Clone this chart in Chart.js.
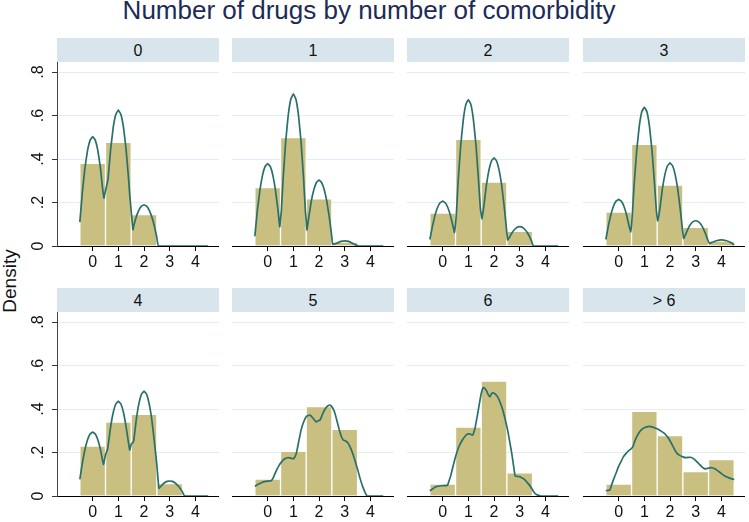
<!DOCTYPE html>
<html><head><meta charset="utf-8">
<script src="https://cdn.jsdelivr.net/npm/chart.js@4.4.1/dist/chart.umd.min.js"></script>
<style>
html,body{margin:0;padding:0;background:#fff;}
#wrap{position:relative;width:749px;height:522px;overflow:hidden;font-family:'Liberation Sans',Arial,sans-serif;}
.title{position:absolute;left:0;top:-5px;width:738px;text-align:center;font-size:26px;color:#1c2b57;line-height:30px;white-space:nowrap;}
.strip{position:absolute;height:24px;background:#d9e5ec;text-align:center;font-size:16px;line-height:25px;color:#111;}
.ylab{position:absolute;left:10px;top:281px;transform:translate(-50%,-50%) rotate(-90deg);font-size:19px;color:#111;white-space:nowrap;}
canvas{position:absolute;}
</style></head>
<body>
<div id="wrap">
  <div class="title">Number of drugs by number of comorbidity</div>
  <div class="ylab">Density</div>
</div>
<script>
// ---- data ----
const panelLabels = ['0', '1', '2', '3', '4', '5', '6', '> 6'];
const binCenters = [0, 1, 2, 3, 4];
const xTickValues = [0, 1, 2, 3, 4];
const yTickValues = [0, 0.2, 0.4, 0.6, 0.8];
const yTickLabels = ['0', '.2', '.4', '.6', '.8'];

const hist0 = [0.380, 0.477, 0.145, 0, 0];
const hist1 = [0.269, 0.499, 0.217, 0.018, 0];
const hist2 = [0.151, 0.491, 0.294, 0.067, 0];
const hist3 = [0.156, 0.467, 0.280, 0.086, 0.023];
const hist4 = [0.229, 0.340, 0.376, 0.057, 0];
const hist5 = [0.078, 0.205, 0.411, 0.307, 0];
const hist6 = [0.055, 0.317, 0.528, 0.107, 0];
const hist7 = [0.055, 0.389, 0.278, 0.112, 0.167];

const kd0 = [[-0.5,0.11],[-0.4,0.25],[-0.3,0.36],[-0.2,0.44],[-0.1,0.487],[0,0.503],[0.1,0.487],[0.2,0.44],[0.3,0.36],[0.38,0.27],[0.44,0.22],[0.48,0.245],[0.53,0.27],[0.6,0.31],[0.7,0.445],[0.8,0.545],[0.9,0.605],[1,0.625],[1.1,0.605],[1.2,0.545],[1.3,0.445],[1.4,0.306],[1.44,0.24],[1.5,0.16],[1.57,0.075],[1.6,0.093],[1.7,0.135],[1.8,0.165],[1.9,0.183],[2,0.189],[2.1,0.183],[2.2,0.165],[2.3,0.135],[2.4,0.093],[2.5,0.038],[2.56,0],[4.5,0]];
const kd1 = [[-0.5,0.045],[-0.4,0.166],[-0.3,0.259],[-0.2,0.326],[-0.1,0.366],[0,0.379],[0.1,0.366],[0.2,0.326],[0.3,0.259],[0.4,0.166],[0.47,0.088],[0.5,0.125],[0.53,0.158],[0.6,0.306],[0.7,0.478],[0.8,0.601],[0.9,0.675],[1,0.70],[1.1,0.675],[1.2,0.601],[1.3,0.478],[1.4,0.306],[1.47,0.158],[1.5,0.12],[1.53,0.074],[1.6,0.132],[1.7,0.207],[1.8,0.26],[1.9,0.292],[2,0.303],[2.1,0.292],[2.2,0.26],[2.3,0.207],[2.4,0.132],[2.47,0.068],[2.5,0.039],[2.53,0.008],[2.7,0.013],[2.85,0.021],[3,0.024],[3.15,0.021],[3.3,0.013],[3.45,0.004],[3.53,0],[4.5,0]];
const kd2 = [[-0.5,0.03],[-0.4,0.09],[-0.3,0.141],[-0.2,0.177],[-0.1,0.199],[0,0.206],[0.1,0.199],[0.2,0.177],[0.3,0.141],[0.4,0.092],[0.46,0.062],[0.5,0.1],[0.54,0.16],[0.6,0.294],[0.7,0.46],[0.8,0.578],[0.9,0.65],[1,0.673],[1.1,0.65],[1.2,0.578],[1.3,0.46],[1.4,0.294],[1.47,0.17],[1.53,0.125],[1.6,0.18],[1.7,0.277],[1.8,0.348],[1.9,0.391],[2,0.405],[2.1,0.391],[2.2,0.348],[2.3,0.277],[2.4,0.177],[2.47,0.095],[2.53,0.028],[2.6,0.039],[2.7,0.061],[2.8,0.076],[2.9,0.086],[3,0.089],[3.1,0.086],[3.2,0.076],[3.3,0.061],[3.4,0.039],[3.47,0.02],[3.53,0],[4.5,0]];
const kd3 = [[-0.5,0.03],[-0.4,0.094],[-0.3,0.146],[-0.2,0.184],[-0.1,0.207],[0,0.214],[0.1,0.207],[0.2,0.184],[0.3,0.146],[0.4,0.094],[0.47,0.064],[0.5,0.095],[0.54,0.16],[0.6,0.279],[0.7,0.436],[0.8,0.549],[0.9,0.617],[1,0.639],[1.1,0.617],[1.2,0.549],[1.3,0.436],[1.4,0.279],[1.47,0.16],[1.52,0.116],[1.6,0.167],[1.7,0.261],[1.8,0.328],[1.9,0.369],[2,0.382],[2.1,0.369],[2.2,0.328],[2.3,0.261],[2.4,0.167],[2.47,0.09],[2.53,0.035],[2.6,0.051],[2.7,0.079],[2.8,0.1],[2.9,0.112],[3,0.116],[3.1,0.112],[3.2,0.1],[3.3,0.079],[3.4,0.051],[3.47,0.028],[3.53,0.012],[3.65,0.017],[3.8,0.024],[4,0.028],[4.2,0.024],[4.35,0.017],[4.5,0.005]];
const kd4 = [[-0.5,0.076],[-0.4,0.154],[-0.3,0.215],[-0.2,0.259],[-0.1,0.285],[0,0.294],[0.1,0.285],[0.2,0.259],[0.3,0.215],[0.42,0.145],[0.5,0.19],[0.58,0.215],[0.7,0.319],[0.8,0.384],[0.9,0.423],[1,0.436],[1.1,0.423],[1.2,0.384],[1.3,0.319],[1.44,0.212],[1.5,0.238],[1.56,0.245],[1.6,0.255],[1.7,0.353],[1.8,0.425],[1.9,0.468],[2,0.482],[2.1,0.468],[2.2,0.425],[2.3,0.353],[2.4,0.253],[2.5,0.142],[2.58,0.035],[2.7,0.05],[2.8,0.061],[2.9,0.067],[3,0.069],[3.1,0.067],[3.2,0.061],[3.3,0.05],[3.42,0.033],[3.5,0.018],[3.58,0],[4.5,0]];
const kd5 = [[-0.5,0.045],[-0.35,0.055],[-0.19,0.064],[0,0.068],[0.13,0.07],[0.2,0.08],[0.26,0.096],[0.35,0.12],[0.45,0.142],[0.55,0.158],[0.65,0.17],[0.78,0.176],[0.9,0.174],[1.0,0.171],[1.08,0.185],[1.13,0.203],[1.2,0.245],[1.3,0.303],[1.4,0.34],[1.52,0.367],[1.65,0.372],[1.75,0.36],[1.88,0.341],[1.95,0.345],[2.04,0.349],[2.15,0.38],[2.25,0.402],[2.35,0.415],[2.43,0.418],[2.52,0.407],[2.6,0.387],[2.7,0.345],[2.79,0.303],[2.88,0.27],[2.95,0.257],[3.05,0.252],[3.12,0.245],[3.2,0.228],[3.31,0.196],[3.41,0.16],[3.51,0.119],[3.6,0.08],[3.7,0.043],[3.8,0.015],[3.87,0],[4.5,0]];
const kd6 = [[-0.5,0.024],[-0.35,0.036],[-0.26,0.043],[-0.06,0.047],[0.1,0.048],[0.19,0.05],[0.25,0.07],[0.32,0.096],[0.42,0.145],[0.52,0.188],[0.65,0.232],[0.78,0.26],[0.88,0.276],[0.97,0.285],[1.07,0.285],[1.17,0.28],[1.22,0.295],[1.27,0.318],[1.35,0.37],[1.43,0.425],[1.5,0.47],[1.58,0.499],[1.64,0.495],[1.71,0.483],[1.78,0.465],[1.84,0.456],[1.9,0.47],[1.97,0.474],[2.05,0.468],[2.14,0.456],[2.24,0.43],[2.34,0.395],[2.44,0.35],[2.53,0.303],[2.61,0.25],[2.69,0.196],[2.76,0.14],[2.82,0.092],[2.9,0.09],[2.99,0.089],[3.08,0.084],[3.18,0.076],[3.28,0.064],[3.38,0.05],[3.48,0.032],[3.57,0.015],[3.7,0.004],[3.83,0],[4.5,0]];
const kd7 = [[-0.5,0.024],[-0.34,0.028],[-0.28,0.05],[-0.21,0.073],[-0.1,0.106],[-0.01,0.135],[0.1,0.16],[0.18,0.18],[0.28,0.195],[0.38,0.208],[0.47,0.216],[0.55,0.226],[0.62,0.25],[0.7,0.272],[0.8,0.292],[0.9,0.306],[1.0,0.314],[1.09,0.318],[1.2,0.32],[1.29,0.318],[1.42,0.313],[1.55,0.306],[1.68,0.296],[1.81,0.285],[1.9,0.272],[2.0,0.254],[2.1,0.232],[2.19,0.211],[2.28,0.195],[2.36,0.188],[2.5,0.18],[2.62,0.176],[2.75,0.178],[2.84,0.177],[2.95,0.168],[3.04,0.158],[3.14,0.146],[3.23,0.135],[3.32,0.127],[3.4,0.125],[3.5,0.128],[3.62,0.13],[3.72,0.126],[3.82,0.119],[3.95,0.108],[4.08,0.096],[4.2,0.088],[4.34,0.081],[4.5,0.076]];

const histograms = [hist0, hist1, hist2, hist3, hist4, hist5, hist6, hist7];
const densities = [kd0, kd1, kd2, kd3, kd4, kd5, kd6, kd7];

// ---- layout ----
const colLefts = [57, 232, 407, 583];
const rowTops = [62, 312];
const plotW = 162, plotH = 184, stripH = 24, xAxisH = 30, yAxisW = 57;
const FONT = "'Liberation Sans', Arial, sans-serif";

const wrap = document.getElementById('wrap');
panelLabels.forEach((lab, i) => {
  const row = i < 4 ? 0 : 1, col = i % 4;
  const left = colLefts[col], top = rowTops[row];
  const strip = document.createElement('div');
  strip.className = 'strip';
  strip.style.left = left + 'px';
  strip.style.top = (top - stripH) + 'px';
  strip.style.width = plotW + 'px';
  strip.textContent = lab;
  wrap.appendChild(strip);

  const aw = col === 0 ? yAxisW : 0;
  const cv = document.createElement('canvas');
  cv.width = plotW + aw; cv.height = plotH + xAxisH;
  cv.style.left = (left - aw) + 'px';
  cv.style.top = top + 'px';
  cv.style.width = (plotW + aw) + 'px';
  cv.style.height = (plotH + xAxisH) + 'px';
  wrap.appendChild(cv);

  const hist = histograms[i];
  new Chart(cv.getContext('2d'), {
    type: 'bar',
    data: {
      datasets: [
        { type: 'line', data: densities[i].map(p => ({x: p[0], y: p[1]})),
          borderColor: '#2a706a', borderWidth: 1.7, pointRadius: 0, tension: 0.08, fill: false, order: 0 },
        { type: 'bar', data: binCenters.map((c, j) => ({x: c, y: hist[j]})).filter(d => d.y > 0),
          backgroundColor: '#c9bf80', borderColor: 'rgba(255,255,255,0.55)', borderWidth: 1,
          borderSkipped: 'bottom', barPercentage: 1, categoryPercentage: 1, order: 1 }
      ]
    },
    options: {
      responsive: false, animation: false, events: [],
      layout: { padding: 0, autoPadding: false },
      plugins: { legend: { display: false }, tooltip: { enabled: false } },
      scales: {
        x: {
          type: 'linear', min: -1.39, max: 4.92, offset: false,
          afterBuildTicks: s => { s.ticks = xTickValues.map(v => ({value: v})); },
          afterFit: s => { s.height = xAxisH; s.paddingLeft = 0; s.paddingRight = 0; },
          grid: { offset: false, drawOnChartArea: false, drawTicks: true, tickLength: 5, tickColor: '#000' },
          border: { display: true, color: '#000', width: 1 },
          ticks: { font: { family: FONT, size: 16 }, color: '#111', padding: 2, maxRotation: 0, autoSkip: false,
                   callback: (v, idx) => String(xTickValues[idx]) }
        },
        y: {
          type: 'linear', min: 0, max: 0.846,
          afterBuildTicks: s => { s.ticks = yTickValues.map(v => ({value: v})); },
          afterFit: s => { s.width = aw; s.paddingTop = 0; s.paddingBottom = 0; },
          grid: { color: c => (c.tick && c.tick.value === 0) ? 'rgba(0,0,0,0)' : '#e4eef1', lineWidth: 1,
                  drawTicks: col === 0, tickLength: 5, tickColor: '#333' },
          border: { display: col === 0, color: '#444', width: 1 },
          ticks: { display: col === 0, minRotation: 90, maxRotation: 90, crossAlign: 'center', padding: 7,
                   font: { family: FONT, size: 16 }, color: '#111',
                   callback: (v, idx) => yTickLabels[idx] }
        }
      }
    }
  });
});
</script>
</body></html>
